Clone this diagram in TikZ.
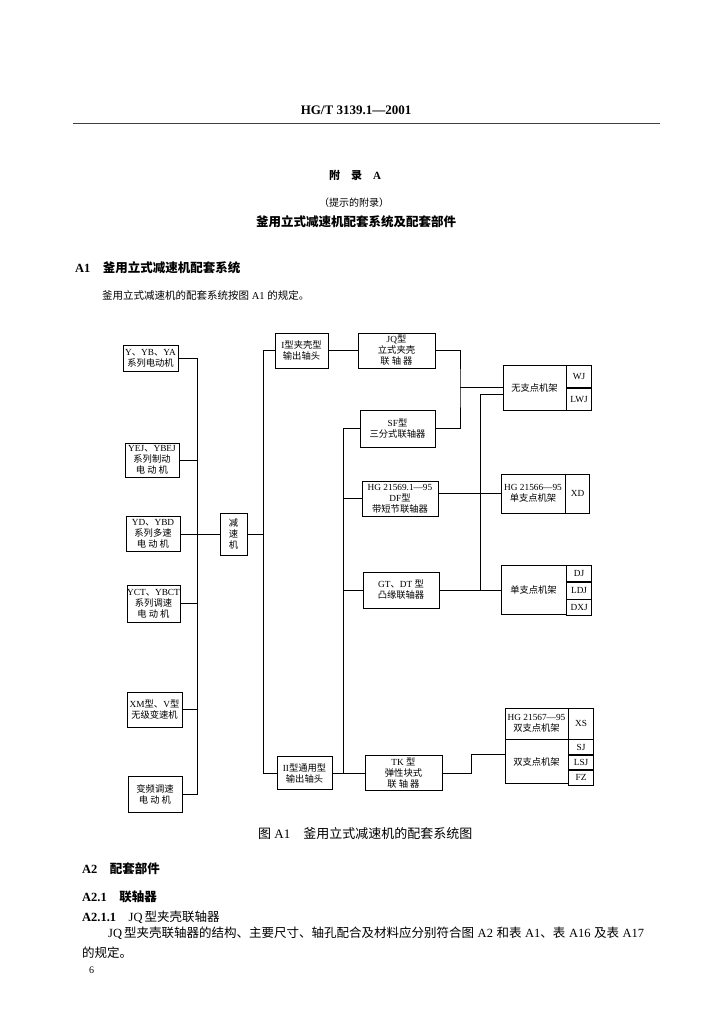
\documentclass[tikz,border=0pt]{standalone}
\usepackage{fontspec}
\setmainfont{Liberation Serif}
\newfontfamily\cjk{Noto Sans CJK SC}
\newcommand\zh[1]{{\cjk #1}}
\begin{document}
\begin{tikzpicture}
	[x=1pt,y=-1pt,
	 txt/.style={inner sep=0pt},
	 box/.style={draw,line width=0.6pt,inner sep=0pt,align=center,font=\fontsize{9.3}{11}\selectfont},
	 cell/.style={box,minimum width=25pt,anchor=north west},
	 link/.style={line width=0.6pt}]
	\useasboundingbox (0,0) rectangle (724,1024);
	% page head
	\node[txt,name=hd,font=\bfseries\fontsize{13}{13}\selectfont]at(356,110){HG/T 3139.1—2001};
	\draw[line width=0.8pt,black!75] (73,123) -- (660,123);
	\node[txt,name=fl,font=\bfseries\fontsize{11}{11}\selectfont]at(355,175){\zh{附}\quad\zh{录}\quad A};
	\node[txt,name=ts,font=\fontsize{10}{10}\selectfont]at(354,203){\zh{（提示的附录）}};
	\node[txt,name=tt,font=\bfseries\fontsize{12.5}{12.5}\selectfont]at(356,222){\zh{釜用立式减速机配套系统及配套部件}};
	\node[txt,name=a1,anchor=west,font=\bfseries\fontsize{12.5}{12.5}\selectfont]at(75,268){A1\quad\zh{釜用立式减速机配套系统}};
	\node[txt,name=a1t,anchor=west,font=\fontsize{10.5}{10.5}\selectfont]at(102,295){\zh{釜用立式减速机的配套系统按图} A1 \zh{的规定。}};
	% motors
	\node[box,name=m1,minimum width=55pt,minimum height=26pt]at(150.5,358){Y\zh{、}YB\zh{、}YA\\\zh{系列电动机}};
	\node[box,name=m2,minimum width=54pt,minimum height=34pt]at(152,460){YEJ\zh{、}YBEJ\\\zh{系列制动}\\\zh{电 动 机}};
	\node[box,name=m3,minimum width=54pt,minimum height=35pt]at(153,534){YD\zh{、}YBD\\\zh{系列多速}\\\zh{电 动 机}};
	\node[box,name=m4,minimum width=53pt,minimum height=37pt]at(153.5,603.5){YCT\zh{、}YBCT\\\zh{系列调速}\\\zh{电 动 机}};
	\node[box,name=m5,minimum width=55pt,minimum height=35pt]at(154.5,709.5){XM\zh{型、}V\zh{型}\\\zh{无级变速机}};
	\node[box,name=m6,minimum width=54pt,minimum height=36pt]at(155,794){\zh{变频调速}\\\zh{电 动 机}};
	\node[box,name=jsj,minimum width=27pt,minimum height=42pt]at(233.5,534){\zh{减}\\\zh{速}\\\zh{机}};
	% shaft ends and couplings
	\node[box,name=zt1,minimum width=53pt,minimum height=35pt]at(301.5,350.5){I\zh{型夹壳型}\\\zh{输出轴头}};
	\node[box,name=zt2,minimum width=55pt,minimum height=33pt]at(304.5,773){II\zh{型通用型}\\\zh{输出轴头}};
	\node[box,name=jq,minimum width=77pt,minimum height=35pt]at(396.5,350.5){JQ\zh{型}\\\zh{立式夹壳}\\\zh{联 轴 器}};
	\node[box,name=sf,minimum width=75pt,minimum height=37pt]at(397.5,428.5){SF\zh{型}\\\zh{三分式联轴器}};
	\node[box,name=df,minimum width=76pt,minimum height=35pt]at(400,498.5){HG 21569.1—95\\DF\zh{型}\\\zh{带短节联轴器}};
	\node[box,name=gt,minimum width=76pt,minimum height=36pt]at(401,590){GT\zh{、}DT \zh{型}\\\zh{凸缘联轴器}};
	\node[box,name=tk,minimum width=77pt,minimum height=35pt]at(403.5,773){TK \zh{型}\\\zh{弹性块式}\\\zh{联 轴 器}};
	% frames
	\node[box,name=wzd,minimum width=63pt,minimum height=45pt]at(534.5,387.5){\zh{无支点机架}};
	\node[cell,name=wj,minimum height=22.5pt]at(wzd.north east){WJ};
	\node[cell,name=lwj,minimum height=22.5pt]at(wj.south west){LWJ};
	\node[box,name=hg66,minimum width=64pt,minimum height=39pt]at(533,493.5){HG 21566—95\\\zh{单支点机架}};
	\node[cell,name=xd,minimum width=24pt,minimum height=39pt]at(hg66.north east){XD};
	\node[box,name=dzd,minimum width=65pt,minimum height=49pt]at(533.5,590){\zh{单支点机架}};
	\node[cell,name=dj,minimum height=16pt]at(dzd.north east){DJ};
	\node[cell,name=ldj,minimum height=17pt]at(dj.south west){LDJ};
	\node[cell,name=dxj,minimum height=16pt]at(ldj.south west){DXJ};
	\node[box,name=hg67,minimum width=63pt,minimum height=31pt]at(536.5,723.5){HG 21567—95\\\zh{双支点机架}};
	\node[cell,name=xs,minimum height=31pt]at(hg67.north east){XS};
	\node[box,name=szd,minimum width=63pt,minimum height=44pt,anchor=north west]at(hg67.south west){\zh{双支点机架}};
	\node[cell,name=sj,minimum height=15pt]at(szd.north east){SJ};
	\node[cell,name=lsj,minimum height=14pt]at(sj.south west){LSJ};
	\node[cell,name=fz,minimum height=15pt]at(lsj.south west){FZ};
	% bus lines
	\coordinate (bl) at (197,0);
	\coordinate (br) at (263,0);
	\coordinate (bm) at (343,0);
	\coordinate (j1) at (460,387);
	\coordinate (k1) at (480,394);
	\coordinate (t1) at (471,754);
	\draw[link] (m1.east) -- (m1.east -| bl) -- (m6.east -| bl) -- (m6.east);
	\foreach \n in {m2,m4,m5} \draw[link] (\n.east) -- (\n.east -| bl);
	\draw[link] (m3.east) -- (jsj.west);
	\draw[link] (jsj.east) -- (jsj.east -| br);
	\draw[link] (zt1.west) -- (zt1.west -| br) -- (zt2.west -| br) -- (zt2.west);
	\draw[link] (zt1.east) -- (jq.west);
	\draw[link] (jq.east) -| (j1) |- (sf.east);
	\draw[link] (j1) -- (j1 -| wzd.west);
	\draw[link] (sf.west) -- (sf.west -| bm) -- (zt2.east -| bm);
	\draw[link] (zt2.east) -- (tk.west);
	\foreach \n in {df,gt} \draw[link] (\n.west) -- (\n.west -| bm);
	\draw[link] (k1) -- (k1 -| wzd.west);
	\draw[link] (k1) -- (k1 |- gt.east);
	\draw[link] (hg66.west -| df.east) -- (hg66.west);
	\draw[link] (gt.east) -- (dzd.west);
	\draw[link] (tk.east) -| (t1) -- (t1 -| szd.west);
	% caption and text below
	\node[txt,name=cap,anchor=west,font=\fontsize{13}{13}\selectfont]at(258,834){\zh{图} A1\quad\zh{釜用立式减速机的配套系统图}};
	\node[txt,name=a2,anchor=west,font=\bfseries\fontsize{12.5}{12.5}\selectfont]at(82,869){A2\quad\zh{配套部件}};
	\node[txt,name=a21,anchor=west,font=\bfseries\fontsize{12.5}{12.5}\selectfont]at(82,897){A2.1\quad\zh{联轴器}};
	\node[txt,name=a211,anchor=west,font=\fontsize{12.5}{12.5}\selectfont]at(82,917){{\bfseries A2.1.1}\quad JQ\,\zh{型夹壳联轴器}};
	\node[txt,name=p1,anchor=west,font=\fontsize{12.5}{12.5}\selectfont]at(108,933){\makebox[536pt][s]{JQ\,\zh{型夹壳联轴器的结构、主要尺寸、轴孔配合及材料应分别符合图} A2 \zh{和表} A1\zh{、表} A16 \zh{及表} A17}};
	\node[txt,name=p2,anchor=west,font=\fontsize{12.5}{12.5}\selectfont]at(82,953){\zh{的规定。}};
	\node[txt,name=pg,anchor=west,font=\fontsize{10}{10}\selectfont]at(89,970){6};
\end{tikzpicture}
\end{document}
